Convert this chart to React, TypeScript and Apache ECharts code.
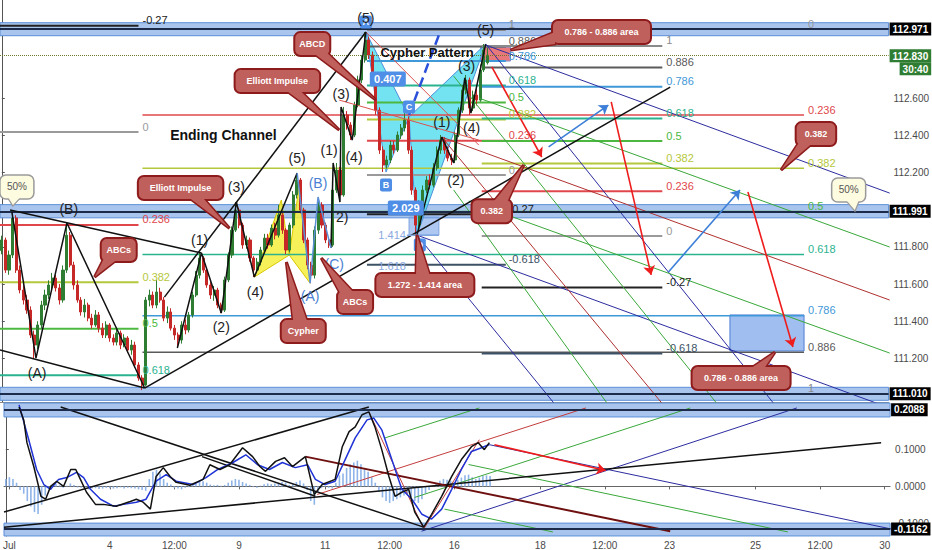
import React, { useEffect, useRef } from 'react';
import * as echarts from 'echarts';

const FONT = '"Liberation Sans", Arial, sans-serif';
const SLOTS = 247;

// ---------- axis labels ----------
const xTickIndex = [1, 29, 47, 65, 89, 107, 125, 149, 167, 185, 209, 227, 245];
const xTickText = ['Jul', '4', '12:00', '9', '11', '12:00', '16', '18', '12:00', '23', '25', '12:00', '30'];
const priceTicks = [112.6, 112.4, 112.2, 111.8, 111.6, 111.4, 111.2];
const oscTicks = [0.1, 0, -0.1];
const levelTags = [112.971, 111.991, 111.01];
const lastPrice = 112.83;
const barCountdown = '30:40';
const oscTags = [0.2088, -0.1162];

// ---------- candles [open, close, low, high] ----------
const candles = [
  [111.78, 111.837, 111.76, 111.86], [111.837, 111.675, 111.66, 111.85], [111.675, 111.756, 111.65, 111.78],
  [111.756, 111.955, 111.74, 111.987], [111.955, 111.675, 111.66, 111.97], [111.675, 111.568, 111.55, 111.7],
  [111.568, 111.514, 111.49, 111.6], [111.514, 111.46, 111.44, 111.54], [111.46, 111.326, 111.31, 111.48],
  [111.326, 111.272, 111.202, 111.35], [111.272, 111.38, 111.25, 111.4], [111.38, 111.487, 111.36, 111.51],
  [111.487, 111.541, 111.46, 111.57], [111.541, 111.595, 111.52, 111.62], [111.595, 111.632, 111.57, 111.66],
  [111.632, 111.579, 111.56, 111.65], [111.579, 111.514, 111.49, 111.6], [111.514, 111.675, 111.5, 111.7],
  [111.675, 111.863, 111.66, 111.928], [111.863, 111.702, 111.69, 111.88], [111.702, 111.595, 111.57, 111.72],
  [111.595, 111.514, 111.5, 111.62], [111.514, 111.45, 111.43, 111.53], [111.45, 111.487, 111.42, 111.52],
  [111.487, 111.417, 111.4, 111.5], [111.417, 111.38, 111.36, 111.44], [111.38, 111.434, 111.37, 111.46],
  [111.434, 111.363, 111.34, 111.45], [111.363, 111.326, 111.31, 111.39], [111.326, 111.38, 111.31, 111.4],
  [111.38, 111.31, 111.29, 111.39], [111.31, 111.288, 111.27, 111.33], [111.288, 111.337, 111.27, 111.36],
  [111.337, 111.272, 111.25, 111.35], [111.272, 111.31, 111.26, 111.33], [111.31, 111.245, 111.23, 111.32],
  [111.245, 111.272, 111.22, 111.3], [111.272, 111.165, 111.15, 111.29], [111.165, 111.095, 111.08, 111.18],
  [111.095, 111.057, 111.03, 111.11], [111.057, 111.514, 111.05, 111.53], [111.514, 111.541, 111.48, 111.57],
  [111.541, 111.487, 111.47, 111.56], [111.487, 111.557, 111.47, 111.622], [111.557, 111.514, 111.5, 111.58],
  [111.514, 111.417, 111.4, 111.53], [111.417, 111.45, 111.39, 111.48], [111.45, 111.363, 111.35, 111.47],
  [111.363, 111.326, 111.3, 111.38], [111.326, 111.299, 111.256, 111.34], [111.299, 111.38, 111.28, 111.4],
  [111.38, 111.353, 111.33, 111.41], [111.353, 111.434, 111.34, 111.45], [111.434, 111.541, 111.42, 111.56],
  [111.541, 111.648, 111.53, 111.67], [111.648, 111.74, 111.63, 111.767], [111.74, 111.675, 111.66, 111.75],
  [111.675, 111.595, 111.58, 111.69], [111.595, 111.541, 111.52, 111.61], [111.541, 111.568, 111.51, 111.59],
  [111.568, 111.487, 111.47, 111.58], [111.487, 111.46, 111.444, 111.5], [111.46, 111.622, 111.45, 111.64],
  [111.622, 111.756, 111.61, 111.77], [111.756, 111.89, 111.74, 111.91], [111.89, 111.998, 111.88, 112.041],
  [111.998, 111.917, 111.9, 112.01], [111.917, 111.81, 111.79, 111.93], [111.81, 111.837, 111.79, 111.86],
  [111.837, 111.74, 111.72, 111.85], [111.74, 111.675, 111.638, 111.75], [111.675, 111.718, 111.66, 111.74],
  [111.718, 111.783, 111.7, 111.8], [111.783, 111.847, 111.77, 111.87], [111.847, 111.81, 111.79, 111.87],
  [111.81, 111.901, 111.8, 111.92], [111.901, 111.863, 111.84, 111.93], [111.863, 111.971, 111.85, 112.025],
  [111.971, 111.89, 111.87, 111.99], [111.89, 111.783, 111.76, 111.9], [111.783, 111.917, 111.77, 111.93],
  [111.917, 112.079, 111.9, 112.1], [112.079, 112.159, 112.06, 112.197], [112.159, 111.998, 111.98, 112.17],
  [111.998, 111.837, 111.82, 112.01], [111.837, 111.702, 111.68, 111.85], [111.702, 111.648, 111.605, 111.72],
  [111.648, 111.89, 111.63, 111.91], [111.89, 112.025, 111.87, 112.068], [112.025, 111.917, 111.9, 112.04],
  [111.917, 111.837, 111.82, 111.93], [111.837, 111.81, 111.794, 111.85], [111.81, 112.105, 111.8, 112.13],
  [112.105, 112.213, 112.09, 112.251], [112.213, 112.079, 112.041, 112.23], [112.079, 112.509, 112.07, 112.552],
  [112.509, 112.455, 112.43, 112.53], [112.455, 112.401, 112.374, 112.47], [112.401, 112.562, 112.39, 112.58],
  [112.562, 112.697, 112.55, 112.72], [112.697, 112.804, 112.68, 112.83], [112.804, 112.912, 112.79, 112.955],
  [112.912, 112.831, 112.81, 112.93], [112.831, 112.724, 112.7, 112.85], [112.724, 112.535, 112.51, 112.74],
  [112.535, 112.32, 112.3, 112.55], [112.32, 112.24, 112.202, 112.34], [112.24, 112.267, 112.22, 112.29],
  [112.267, 112.347, 112.25, 112.37], [112.347, 112.32, 112.3, 112.37], [112.32, 112.401, 112.31, 112.42],
  [112.401, 112.439, 112.38, 112.46], [112.439, 112.482, 112.42, 112.519], [112.482, 112.32, 112.3, 112.5],
  [112.32, 112.105, 112.08, 112.34], [112.105, 111.917, 111.863, 112.12], [111.917, 112.025, 111.9, 112.05],
  [112.025, 112.105, 112.0, 112.13], [112.105, 112.159, 112.09, 112.18], [112.159, 112.132, 112.11, 112.19],
  [112.132, 112.224, 112.12, 112.25], [112.224, 112.32, 112.21, 112.34], [112.32, 112.374, 112.3, 112.401],
  [112.374, 112.32, 112.3, 112.39], [112.32, 112.277, 112.26, 112.34], [112.277, 112.267, 112.24, 112.3],
  [112.267, 112.401, 112.25, 112.42], [112.401, 112.535, 112.39, 112.55], [112.535, 112.643, 112.52, 112.67],
  [112.643, 112.697, 112.62, 112.724], [112.697, 112.546, 112.509, 112.71], [112.546, 112.616, 112.53, 112.64],
  [112.616, 112.589, 112.56, 112.65], [112.589, 112.751, 112.58, 112.78], [112.751, 112.858, 112.74, 112.89],
  [112.79, 112.83, 112.78, 112.87],
];

// ---------- oscillator ----------
const histogram = [
  0.02, 0.025, 0.02, 0.01, -0.01, -0.02, -0.04, -0.055, -0.07, -0.075, -0.05,
  -0.025, -0.005, 0.004, 0.006, 0.003, -0.004, 0.002, 0.008, 0.004, -0.003,
  -0.004, -0.006, -0.008, -0.006, -0.005, -0.007, -0.006, -0.004, -0.005, -0.006,
  -0.005, -0.003, -0.006, -0.004, -0.005, -0.006, -0.008, -0.01, -0.012,
  0.02, 0.04, 0.045, 0.035, 0.02, 0.01,
  0.005, -0.004, -0.006, -0.008, -0.004, -0.002, 0.004,
  0.008, 0.012, 0.014, 0.01, 0.005, 0.003, 0.004, 0.002,
  0.004, 0.01, 0.016, 0.02, 0.018, 0.012,
  0.008, 0.004, -0.002, -0.004, 0.002, 0.006, 0.008, 0.006, 0.008,
  0.01, 0.012, 0.01, 0.004, 0.006, 0.012, 0.016, 0.008, -0.01,
  -0.04, -0.05, -0.015, -0.005, 0.002, -0.004, -0.006,
  0.01, 0.03, 0.035, 0.05, 0.06, 0.065, 0.07, 0.06, 0.05, 0.04,
  0.025, 0.01, -0.015, -0.03, -0.04, -0.045, -0.04,
  -0.035, -0.03, -0.025, -0.02, -0.03, -0.04, -0.045, -0.035,
  -0.02, -0.01, 0.0, 0.008, 0.015, 0.02, 0.018,
  0.015, 0.012, 0.018, 0.024, 0.03, 0.032, 0.025, 0.02, 0.024, 0.028, 0.03, 0.028,
];
const oscBlack = [
  [3.7, 0.216], [5.0, 0.181], [5.9, 0.119], [7.8, 0.054], [9.8, -0.027], [11.1, -0.035], [12.5, 0.0],
  [14.2, 0.014], [16.1, 0.0], [18.1, 0.046], [19.5, 0.046], [20.8, 0.019], [22.5, -0.016], [25.0, -0.049],
  [27.2, -0.049], [30.8, -0.054], [34.7, -0.041], [36.4, -0.035], [38.3, -0.043], [40.3, -0.062],
  [41.9, 0.027], [43.9, 0.051], [45.8, 0.027], [47.5, 0.011], [51.3, 0.003], [55.0, 0.019], [56.9, 0.059],
  [59.7, 0.046], [62.4, 0.059], [66.0, 0.105], [68.8, 0.081], [70.8, 0.054], [72.4, 0.041], [75.2, 0.068],
  [77.7, 0.078], [79.9, 0.054], [83.5, 0.081], [86.0, -0.022], [88.2, 0.005], [91.8, 0.019], [93.8, 0.108],
  [95.7, 0.149], [97.4, 0.162], [99.3, 0.195], [101.2, 0.203], [102.9, 0.162], [104.8, 0.1], [106.8, 0.027],
  [108.5, -0.027], [110.4, -0.016], [112.3, -0.008], [114.0, -0.07], [116.5, -0.111], [118.7, -0.076],
  [121.5, -0.027], [124.3, 0.027], [127.0, 0.073], [129.8, 0.108], [131.7, 0.119], [133.4, 0.1], [134.8, 0.119],
];
const oscBlue = [
  [3.7, 0.222], [6.4, 0.127], [8.6, 0.046], [10.6, 0.005], [12.5, -0.008], [14.7, 0.019], [17.0, 0.024],
  [19.7, 0.038], [21.7, 0.024], [23.6, -0.008], [26.4, -0.035], [30.0, -0.054], [32.8, -0.049], [36.4, -0.043],
  [39.1, -0.035], [41.9, 0.014], [44.7, 0.032], [47.5, 0.014], [52.2, 0.005], [55.8, 0.024], [59.1, 0.046],
  [63.3, 0.065], [66.9, 0.086], [70.2, 0.059], [73.5, 0.046], [77.1, 0.065], [80.7, 0.051], [84.1, 0.059],
  [86.3, 0.019], [89.0, 0.005], [91.8, 0.014], [94.6, 0.073], [97.4, 0.132], [100.7, 0.181], [102.6, 0.186],
  [104.8, 0.154], [107.6, 0.073], [110.4, -0.008], [113.2, -0.035], [116.0, -0.076], [118.7, -0.089],
  [121.5, -0.062], [124.3, -0.008], [127.0, 0.046], [129.8, 0.095], [132.6, 0.105], [134.8, 0.114],
];

// ---------- fibonacci tools (anchors: price at level 0 and level 1) ----------
const fibLeft = { from: -0.5, to: 38.0, labelAt: 39.1, zero: 112.417, one: 110.302, levels: [-0.27, 0, 0.236, 0.382, 0.5, 0.618] };
const fibRight = { from: 39.1, to: 223.0, labelAt: 224.1, zero: 112.971, one: 111.01, levels: [0, 0.236, 0.382, 0.5, 0.618, 0.786, 0.886, 1] };
const fibWave = { from: 101.5, to: 140.1, labelAt: 140.9, zero: 112.186, one: 112.966, levels: [1, 0.886, 0.786, 0.618, 0.5, 0.382, 0.236, 0, -0.27, -0.618] };
const fibTarget = { from: 133.4, to: 183.6, labelAt: 184.7, zero: 111.858, one: 112.88, levels: [1, 0.886, 0.786, 0.618, 0.5, 0.382, 0.236, 0, -0.27, -0.618] };

// ---------- drawings (x = bar index, y = price) ----------
const blackTrends = [
  [[2.3, 111.998], [55.5, 111.767]],
  [[-0.5, 111.245], [39.7, 111.041]],
  [[39.7, 111.041], [185.8, 112.659]],
  [[45.2, 111.53], [101.2, 112.955]],
  [[2.8, 111.987], [9.5, 111.202], [18.1, 111.928], [39.7, 111.041]],
  [[48.8, 111.256], [55.5, 111.767], [61.0, 111.444], [65.2, 112.041], [70.2, 111.638], [82.1, 112.197]],
  [[91.5, 111.794], [92.1, 112.251], [94.0, 112.041], [94.3, 112.552], [97.4, 112.374], [101.2, 112.955]],
  [[115.4, 111.863], [122.3, 112.39], [125.6, 112.251], [128.7, 112.708], [130.4, 112.519], [134.5, 112.89]],
];
const blueWave = [[82.1, 112.197], [85.7, 111.605], [87.9, 112.068], [91.5, 111.794]];
const thinRed = [
  [[101.2, 112.955], [132.6, 112.347]],
  [[93.8, 112.589], [132.6, 112.374]],
];
const dashedBlue = [[113.2, 112.509], [121.5, 112.939]];
const ratioLine = [[112.6, 111.863], [121.5, 111.863]];
const fanNavy = [
  [[134.5, 112.885], [246.8, 112.089]],
  [[115.4, 111.863], [246.8, 110.934]],
  [[134.5, 112.89], [214.9, 110.95]],
  [[115.4, 111.863], [153.9, 110.95]],
];
const fanGreen = [
  [[132.6, 112.6], [246.8, 111.799]],
  [[129.8, 112.046], [246.8, 111.229]],
  [[125.6, 112.718], [199.1, 110.95]],
  [[125.6, 112.106], [168.6, 110.95]],
];
const fanRed = [
  [[122.3, 112.39], [246.8, 111.514]],
  [[122.3, 112.39], [183.9, 110.95]],
];
const redArrows = [
  [[136.2, 112.767], [150.1, 112.283]],
  [[169.4, 112.579], [180.5, 111.649]],
  [[207.4, 112.095], [219.9, 111.262]],
];
const blueArrows = [
  [[152.0, 112.337], [168.6, 112.562]],
  [[185.3, 111.665], [205.2, 112.106]],
];
const cyanTriangles = [
  [[101.2, 112.955], [106.8, 112.202], [113.2, 112.498]],
  [[113.2, 112.498], [115.4, 111.863], [134.5, 112.89]],
];
const yellowTriangles = [
  [[70.2, 111.638], [77.7, 112.052], [79.9, 111.756]],
  [[79.9, 111.756], [82.7, 112.132], [85.7, 111.605]],
];
const bandsMain = [[113.005, 112.935], [112.027, 111.956], [111.045, 110.975]];
const bandsOsc = [[0.227, 0.189], [-0.1, -0.135]];
const pinkZone = [[133.1, 112.874], [141.4, 112.799]];
const blueZone = [[202.4, 111.434], [223.0, 111.24]];
const dZone = [[113.2, 111.96], [121.5, 111.863]];

// oscillator drawings (x = bar index, y = value)
const oscBlackLines = [
  [[-0.5, -0.111], [244.0, 0.119]],
  [[15.3, 0.216], [116.5, -0.111]],
  [[-0.5, -0.07], [101.2, 0.216]],
  [[54.7, 0.081], [86.3, -0.027]],
];
const oscDarkRed = [[83.5, 0.081], [185.2, -0.122]];
const oscNavy = [
  [[115.9, -0.122], [220.5, 0.2135]],
  [[134.8, 0.1135], [246.8, -0.116]],
];
const oscGreen = [
  [[114.0, -0.03], [190.8, 0.2135]],
  [[105.7, 0.132], [132.0, 0.2135]],
  [[129.0, 0.0595], [218.0, -0.124]],
  [[122.3, -0.062], [152.5, -0.124]],
];
const oscRedThin = [
  [[86.8, -0.022], [161.7, 0.2135]],
  [[101.2, 0.203], [116.5, -0.116], [132.0, 0.127]],
];
const oscArrow = [[[136.2, 0.1135], [167.2, 0.043]]];

// ---------- texts ----------
const waveLabels = [
  { t: '(5)', i: 101.2, p: 113.03 }, { t: '(5)', i: 134.5, p: 112.966 }, { t: '(3)', i: 94.3, p: 112.622 },
  { t: '(4)', i: 97.9, p: 112.283 }, { t: '(1)', i: 91.0, p: 112.321 }, { t: '2)', i: 94.6, p: 111.961 },
  { t: '(3)', i: 65.2, p: 112.122 }, { t: '(4)', i: 70.5, p: 111.557 }, { t: '(1)', i: 55.0, p: 111.837 },
  { t: '(2)', i: 61.0, p: 111.369 }, { t: '(5)', i: 82.1, p: 112.277 }, { t: '(B)', i: 18.6, p: 112.003 },
  { t: '(A)', i: 9.8, p: 111.122 }, { t: '(1)', i: 122.3, p: 112.471 }, { t: '(2)', i: 126.2, p: 112.159 },
  { t: '(3)', i: 129.2, p: 112.772 }, { t: '(4)', i: 130.6, p: 112.439 },
];
const waveLabelsBlue = [
  { t: '(B)', i: 87.9, p: 112.143 }, { t: '(C)', i: 92.4, p: 111.708 }, { t: '(A)', i: 85.7, p: 111.536 },
];
const titles = [
  { t: 'Ending Channel', i: 61.6, p: 112.401, s: 14 },
  { t: 'Cypher Pattern', i: 118.2, p: 112.847, s: 13 },
];
const ratioTags = [{ t: '0.407', i: 107.3, p: 112.702 }, { t: '2.029', i: 112.3, p: 112.009 }];
const pointTags = [
  { t: 'A', i: 101.2, p: 113.009 }, { t: 'B', i: 106.8, p: 112.132 },
  { t: 'C', i: 113.2, p: 112.552 }, { t: 'D', i: 116.2, p: 111.81 },
];
const ratioTexts = [{ t: '1.414', i: 108.5, p: 111.863 }, { t: '1.618', i: 108.5, p: 111.697 }];
const callouts = [
  { t: 'ABCD', i: 86.3, p: 112.89, ti: 104.0, tp: 112.589 },
  { t: 'Elliott Impulse', i: 76.6, p: 112.691, ti: 93.8, tp: 112.428 },
  { t: 'Elliott Impulse', i: 49.7, p: 112.116, ti: 63.3, tp: 111.9 },
  { t: 'ABCs', i: 32.5, p: 111.783, ti: 25.8, tp: 111.638 },
  { t: 'Cypher', i: 83.8, p: 111.347, ti: 79.1, tp: 111.718 },
  { t: 'ABCs', i: 98.2, p: 111.503, ti: 88.8, tp: 111.74 },
  { t: '1.272 - 1.414 area', i: 117.6, p: 111.595, ti: 115.4, tp: 111.863 },
  { t: '0.786 - 0.886 area', i: 166.7, p: 112.955, ti: 141.4, tp: 112.858 },
  { t: '0.382', i: 226.3, p: 112.406, ti: 216.6, tp: 112.213 },
  { t: '0.382', i: 136.2, p: 111.992, ti: 145.1, tp: 112.24 },
  { t: '0.786 - 0.886 area', i: 205.5, p: 111.095, ti: 214.9, tp: 111.234 },
];
const bubbles = [
  { t: '50%', i: 4.2, p: 112.122, ti: 3.1, tp: 112.025 },
  { t: '50%', i: 235.4, p: 112.106, ti: 237.1, tp: 111.998 },
];

// ---------- styles ----------
const levelColor: Record<string, string> = {
  '1': '#8a8a8a', '0.886': '#5a5a5a', '0.786': '#3f98d8', '0.618': '#2bb38f', '0.5': '#4cb840',
  '0.382': '#b5c73a', '0.236': '#e0474c', '0': '#9a9a9a', '-0.27': '#222222', '-0.618': '#3d5266',
};
const NAVY = '#2c2ca0';
const GREEN = '#3aa83a';
const DARKRED = '#b03030';

function seg(points: any, color: string, width: number, lower = false, z = 4, type = 'solid') {
  return {
    type: 'line', xAxisIndex: lower ? 3 : 1, yAxisIndex: lower ? 1 : 0, data: points,
    showSymbol: false, symbol: 'none', silent: true, clip: true, z,
    lineStyle: { color, width, type },
  };
}

function textLayer(items: any[], fill: string, fontSize: number, opts: any = {}) {
  return {
    type: 'custom', xAxisIndex: 1, yAxisIndex: 0, z: opts.z ?? 9, silent: true,
    data: items.map((d) => [d.i, d.p]),
    renderItem: (params: any, api: any) => {
      const d = items[params.dataIndex];
      const pt = api.coord([d.i, d.p]);
      return {
        type: 'text', x: pt[0] + (opts.dx || 0), y: pt[1] + (opts.dy || 0),
        style: {
          text: d.t, fill: d.color || fill, fontSize: d.s || fontSize, fontFamily: FONT,
          fontWeight: opts.bold ? 'bold' : 'normal', align: opts.align || 'center', verticalAlign: 'middle',
        },
      };
    },
  };
}

function tagLayer(items: any[], fill: string, fontSize: number, minW: number) {
  return {
    type: 'custom', xAxisIndex: 1, yAxisIndex: 0, z: 8, silent: true,
    data: items.map((d) => [d.i, d.p]),
    renderItem: (params: any, api: any) => {
      const d = items[params.dataIndex];
      const [x, y] = api.coord([d.i, d.p]);
      const w = Math.max(minW, d.t.length * 6 + 6);
      const h = fontSize + 4;
      return {
        type: 'group', children: [
          { type: 'rect', shape: { x: x - w / 2, y: y - h / 2, width: w, height: h, r: 2 }, style: { fill } },
          { type: 'text', x, y, style: { text: d.t, fill: '#fff', fontSize, fontFamily: FONT, fontWeight: 'bold', align: 'center', verticalAlign: 'middle' } },
        ],
      };
    },
  };
}

function calloutLayer(items: any[], fill: string, stroke: string, color: string, fontSize: number, bold: boolean, charW: number, pad: number, h: number, lw: number) {
  return {
    type: 'custom', xAxisIndex: 1, yAxisIndex: 0, z: 10, silent: true,
    data: items.map((d) => [d.i, d.p]),
    renderItem: (params: any, api: any) => {
      const c = items[params.dataIndex];
      const [cx, cy] = api.coord([c.i, c.p]);
      const [tx, ty] = api.coord([c.ti, c.tp]);
      const w = c.t.length * charW + pad;
      const hw = w / 2, hh = h / 2;
      const dx = tx - cx, dy = ty - cy;
      let b1: number[], b2: number[];
      if (Math.abs(dy) * hw >= Math.abs(dx) * hh) {
        const ey = cy + Math.sign(dy) * (hh - 3);
        const ex = cx + dx * (hh / Math.abs(dy));
        const bx = Math.max(cx - hw + 10, Math.min(cx + hw - 10, ex));
        b1 = [bx - 7, ey]; b2 = [bx + 7, ey];
      } else {
        const ex = cx + Math.sign(dx) * (hw - 3);
        const ey = cy + dy * (hw / Math.abs(dx));
        const by = Math.max(cy - hh + 6, Math.min(cy + hh - 6, ey));
        b1 = [ex, by - 6]; b2 = [ex, by + 6];
      }
      const tail = [[tx, ty], b1, b2];
      return {
        type: 'group', children: [
          { type: 'polygon', shape: { points: tail }, style: { fill, stroke, lineWidth: lw + 1 } },
          { type: 'rect', shape: { x: cx - hw, y: cy - hh, width: w, height: h, r: 6 }, style: { fill, stroke, lineWidth: lw } },
          { type: 'polygon', shape: { points: tail }, style: { fill, stroke: null } },
          { type: 'text', x: cx, y: cy, style: { text: c.t, fill: color, fontSize, fontFamily: FONT, fontWeight: bold ? 'bold' : 'normal', align: 'center', verticalAlign: 'middle' } },
        ],
      };
    },
  };
}

function polygonLayer(polys: any[], fill: string, stroke: string) {
  return {
    type: 'custom', xAxisIndex: 1, yAxisIndex: 0, z: 1.5, silent: true,
    data: polys.map((p) => p[0]),
    renderItem: (params: any, api: any) => {
      const poly = polys[params.dataIndex];
      return { type: 'polygon', shape: { points: poly.map((pt: number[]) => api.coord(pt)) }, style: { fill, stroke, lineWidth: 1 } };
    },
  };
}

function fibSeries(set: any, width: number) {
  const out: any[] = [];
  const labels: any[] = [];
  set.levels.forEach((lvl: number) => {
    const price = set.zero + lvl * (set.one - set.zero);
    const color = levelColor[String(lvl)];
    out.push(seg([[set.from, price], [set.to, price]], color, width, false, 2));
    labels.push({ t: String(lvl), i: set.labelAt, p: price, color });
  });
  out.push(textLayer(labels, '#555', 11, { align: 'left', dy: -5.5, z: 7 }));
  return out;
}

function buildOption() {
  const tickMap: Record<number, string> = {};
  xTickIndex.forEach((k, j) => { tickMap[k] = xTickText[j]; });
  const categories = Array.from({ length: SLOTS }, (_, k) => String(k));
  const showTick = (idx: number) => tickMap[idx] !== undefined;

  const tagLabel = {
    show: true, position: 'end', distance: 1, backgroundColor: '#000', color: '#fff',
    fontWeight: 'bold', fontSize: 10, fontFamily: FONT, padding: [2, 3, 1, 3],
  };

  const series: any[] = [];

  // bands & zones (main)
  series.push({
    type: 'line', xAxisIndex: 1, yAxisIndex: 0, data: [[-100, 112]], showSymbol: false, clip: true, z: 1, silent: true,
    lineStyle: { width: 0 },
    markArea: {
      silent: true,
      itemStyle: { color: '#a9c5ee', borderColor: '#5b8fd8', borderWidth: 1 },
      data: [
        ...bandsMain.map((b) => [{ yAxis: b[0] }, { yAxis: b[1] }]),
        [{ coord: pinkZone[0], itemStyle: { color: '#e8787a', borderColor: '#7d8fd0' } }, { coord: pinkZone[1] }],
        [{ coord: blueZone[0], itemStyle: { color: 'rgba(96,146,230,0.6)', borderColor: '#4f7fd6' } }, { coord: blueZone[1] }],
        [{ coord: dZone[0], itemStyle: { color: 'rgba(96,146,230,0.5)', borderColor: '#7fa6e0' } }, { coord: dZone[1] }],
      ],
    },
    markLine: {
      silent: true, symbol: 'none', precision: 4,
      lineStyle: { color: '#1c2b4a', width: 2, type: 'solid' },
      label: tagLabel,
      data: levelTags.map((v) => ({ yAxis: v, label: { formatter: v.toFixed(3) } })),
    },
  });
  // last price line
  series.push({
    type: 'line', xAxisIndex: 1, yAxisIndex: 0, data: [[-100, 112]], showSymbol: false, clip: true, z: 1, silent: true,
    lineStyle: { width: 0 },
    markLine: {
      silent: true, symbol: 'none', precision: 4,
      lineStyle: { color: '#6b7a2a', width: 1, type: 'dotted' },
      label: {
        show: true, position: 'end', distance: 1, offset: [0, 7],
        formatter: () => `{a|${lastPrice.toFixed(3)}}\n{b|${barCountdown}}`,
        rich: {
          a: { backgroundColor: '#2f7d32', color: '#fff', fontWeight: 'bold', fontSize: 10, fontFamily: FONT, padding: [2, 3, 1, 3] },
          b: { backgroundColor: '#2f7d32', color: '#fff', fontWeight: 'bold', fontSize: 10, fontFamily: FONT, padding: [2, 3, 1, 3], align: 'right' },
        },
      },
      data: [{ yAxis: lastPrice }],
    },
  });
  // bands (oscillator)
  series.push({
    type: 'line', xAxisIndex: 3, yAxisIndex: 1, data: [[-100, 0]], showSymbol: false, clip: true, z: 1, silent: true,
    lineStyle: { width: 0 },
    markArea: {
      silent: true,
      itemStyle: { color: '#a9c5ee', borderColor: '#5b8fd8', borderWidth: 1 },
      data: bandsOsc.map((b) => [{ yAxis: b[0] }, { yAxis: b[1] }]),
    },
    markLine: {
      silent: true, symbol: 'none', precision: 4,
      lineStyle: { color: '#1c2b4a', width: 2, type: 'solid' },
      label: tagLabel,
      data: oscTags.map((v) => ({ yAxis: v, label: { formatter: v.toFixed(4) } })),
    },
  });

  // patterns
  series.push(polygonLayer(cyanTriangles, 'rgba(70,218,236,0.75)', '#4a8fd9'));
  series.push(polygonLayer(yellowTriangles, 'rgba(246,238,60,0.85)', '#d8c800'));

  // fib tools
  series.push(...fibSeries(fibLeft, 2));
  series.push(...fibSeries(fibRight, 1.5));
  series.push(...fibSeries(fibWave, 2));
  series.push(...fibSeries(fibTarget, 2));

  // candles
  series.push({
    type: 'candlestick', xAxisIndex: 0, yAxisIndex: 0, z: 3, data: candles, barWidth: 2.6, silent: true,
    itemStyle: { color: '#2e7d32', color0: '#c62828', borderColor: '#2e7d32', borderColor0: '#c62828', borderWidth: 1 },
  });

  // fans
  fanNavy.forEach((s) => series.push(seg(s, NAVY, 1)));
  fanGreen.forEach((s) => series.push(seg(s, GREEN, 1)));
  fanRed.forEach((s) => series.push(seg(s, DARKRED, 1)));
  thinRed.forEach((s) => series.push(seg(s, '#d9534f', 1)));
  // trend lines & waves
  blackTrends.forEach((s) => series.push(seg(s, '#111', 1.5, false, 5)));
  series.push(seg(blueWave, '#5b8fd6', 1.5, false, 5));
  series.push(seg(dashedBlue, '#2a4fd8', 2.5, false, 5, 'dashed'));
  series.push(seg(ratioLine, '#7fa6e0', 1.5, false, 5));

  // arrows
  const arrowHost = (list: any[], color: string, lower: boolean) => ({
    type: 'line', xAxisIndex: lower ? 3 : 1, yAxisIndex: lower ? 1 : 0, data: [[-100, lower ? 0 : 112]], showSymbol: false,
    clip: true, silent: true, z: 6, lineStyle: { width: 0 },
    markLine: {
      silent: true, symbol: ['none', 'arrow'], symbolSize: 9,
      lineStyle: { color, width: 1.6, type: 'solid' }, label: { show: false },
      data: list.map((a) => [{ coord: a[0] }, { coord: a[1] }]),
    },
  });
  series.push(arrowHost(redArrows, '#ee1c1c', false));
  series.push(arrowHost(blueArrows, '#3d7fd8', false));
  series.push(arrowHost(oscArrow, '#ee1c1c', true));

  // oscillator
  series.push({
    type: 'bar', xAxisIndex: 2, yAxisIndex: 1, data: histogram, barWidth: 1.6, silent: true, z: 2,
    itemStyle: { color: '#8fb4e8' },
  });
  oscBlackLines.forEach((s) => series.push(seg(s, '#111', 1.5, true, 4)));
  series.push(seg(oscDarkRed, '#6e1010', 2, true, 4));
  oscNavy.forEach((s) => series.push(seg(s, NAVY, 1, true, 3)));
  oscGreen.forEach((s) => series.push(seg(s, GREEN, 1, true, 3)));
  oscRedThin.forEach((s) => series.push(seg(s, '#c43c3c', 1, true, 3)));
  series.push(seg(oscBlue, '#1f33d6', 1.5, true, 5));
  series.push(seg(oscBlack, '#111', 1.5, true, 5));

  // texts
  series.push(textLayer(waveLabels, '#222', 14));
  series.push(textLayer(waveLabelsBlue, '#4a7fd4', 14));
  series.push(textLayer(titles, '#111', 14, { bold: true }));
  series.push(textLayer(ratioTexts, '#8aa8e0', 11));
  series.push(tagLayer(ratioTags, '#4f8ee6', 11, 30));
  series.push(tagLayer(pointTags, '#4f8ee6', 9, 10));
  series.push(calloutLayer(callouts, '#c0605c', '#8e1b1b', '#fff', 9, true, 4.5, 18, 24, 2));
  series.push(calloutLayer(bubbles, '#fdfbe0', '#9a9a9a', '#555', 10, false, 6, 16, 24, 1.5));

  const yLabel = (digits: number, values: number[]) => ({
    customValues: values, color: '#4a4a4a', fontSize: 10, fontFamily: FONT, margin: 5,
    formatter: (v: number) => Number(v).toFixed(digits),
  });

  return {
    animation: false,
    backgroundColor: '#fff',
    grid: [
      { left: 0, top: 0, width: 891, height: 402 },
      { left: 0, top: 403, width: 891, height: 134 },
    ],
    xAxis: [
      { type: 'category', gridIndex: 0, data: categories, boundaryGap: true, axisLine: { show: true, lineStyle: { color: '#888' } }, axisTick: { show: false }, axisLabel: { show: false }, splitLine: { show: false } },
      { type: 'value', gridIndex: 0, min: -0.5, max: SLOTS - 0.5, show: false },
      {
        type: 'category', gridIndex: 1, data: categories, boundaryGap: true,
        axisLine: { show: true, lineStyle: { color: '#666' } },
        axisTick: { show: true, alignWithLabel: true, length: 3, interval: showTick, lineStyle: { color: '#666' } },
        axisLabel: { interval: showTick, formatter: (_v: string, idx: number) => tickMap[idx] ?? '', color: '#4a4a4a', fontSize: 10, fontFamily: FONT, margin: 4 },
        splitLine: { show: false },
      },
      { type: 'value', gridIndex: 1, min: -0.5, max: SLOTS - 0.5, show: false },
    ],
    yAxis: [
      {
        type: 'value', gridIndex: 0, position: 'right', min: 110.966, max: 113.127, scale: true,
        splitLine: { show: false }, axisLine: { show: true, lineStyle: { color: '#555' } },
        axisTick: { show: true, length: 3, customValues: priceTicks, lineStyle: { color: '#555' } },
        axisLabel: yLabel(3, priceTicks),
      },
      {
        type: 'value', gridIndex: 1, position: 'right', min: -0.1351, max: 0.227, scale: true,
        splitLine: { show: false }, axisLine: { show: true, lineStyle: { color: '#555' } },
        axisTick: { show: true, length: 3, customValues: oscTicks, lineStyle: { color: '#555' } },
        axisLabel: yLabel(4, oscTicks),
      },
    ],
    series,
  };
}

export default function App() {
  const ref = useRef<HTMLDivElement>(null);
  useEffect(() => {
    const chart = echarts.init(ref.current as HTMLDivElement, null, { renderer: 'svg' });
    chart.setOption(buildOption() as any);
    return () => chart.dispose();
  }, []);
  return (
    <div
      ref={ref}
      style={{ position: 'fixed', left: 0, top: 0, width: 932, height: 550, background: '#fff' }}
    />
  );
}
